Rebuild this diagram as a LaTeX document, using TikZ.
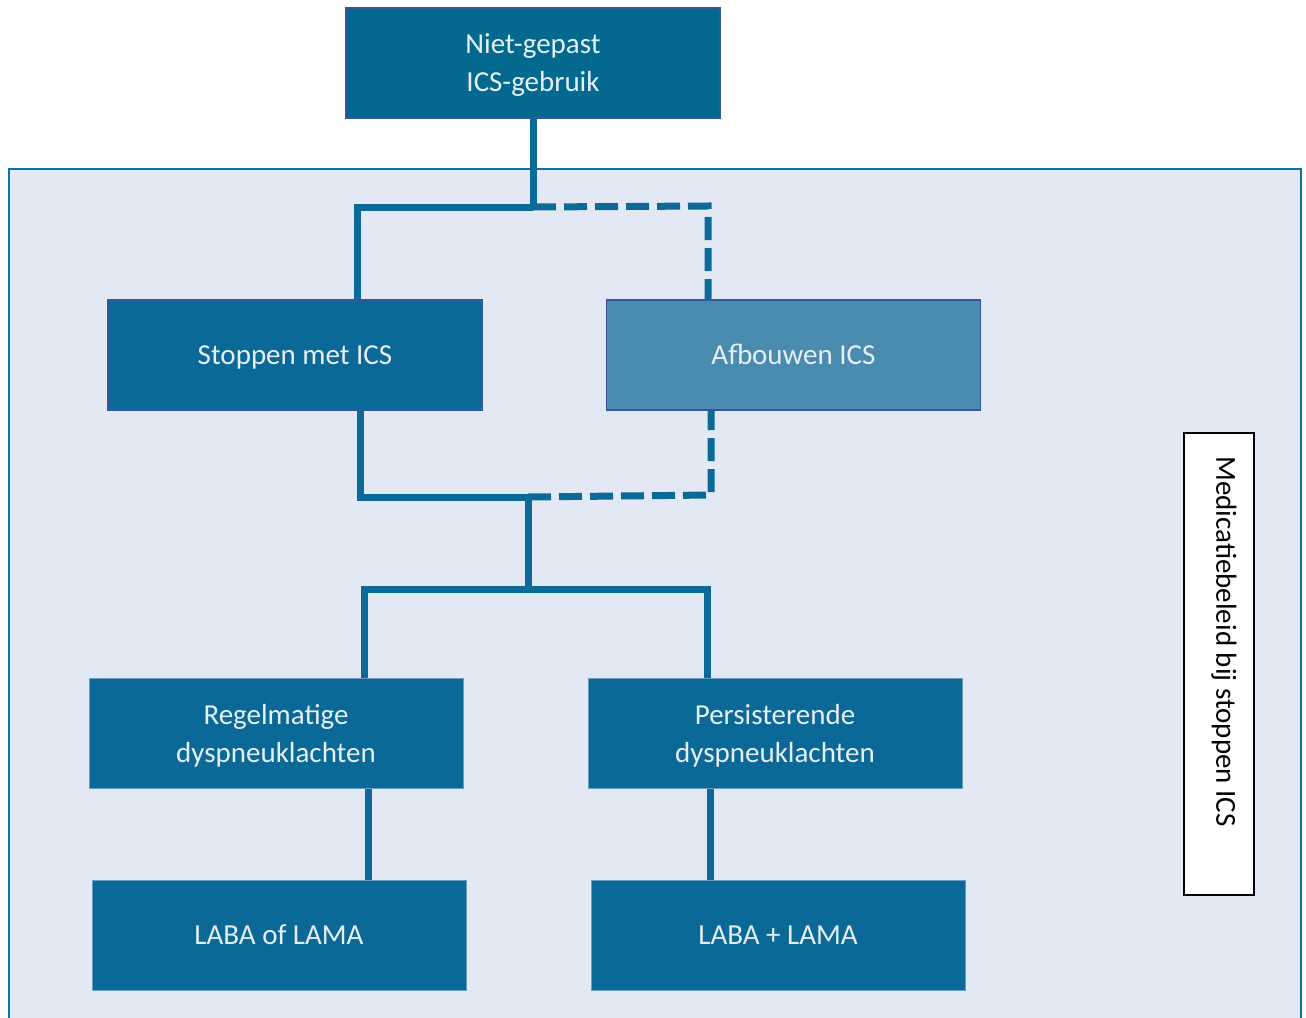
\documentclass[tikz,border=0pt]{standalone}
\usepackage{fontspec}
\setmainfont{Carlito}
\definecolor{bgpanel}{HTML}{E2E8F4}
\definecolor{panelline}{HTML}{1170A0}
\definecolor{topfill}{HTML}{03698F}
\definecolor{boxfill}{HTML}{0A6996}
\definecolor{lightfill}{HTML}{4A8BB0}
\definecolor{darkedge}{HTML}{3A55A0}
\definecolor{softedge}{HTML}{6A9CC6}
\definecolor{connc}{HTML}{0B6A98}
\definecolor{textc}{HTML}{E6EEF6}
\begin{document}
\begin{tikzpicture}[x=0.5pt,y=-0.5pt,
  box/.style={rectangle, minimum width=187pt, minimum height=55pt, inner sep=0pt,
    text=textc, font=\fontsize{14.5pt}{19pt}\selectfont, align=center, line width=0.8pt},
  oneline/.style={text height=9.3pt, text depth=0pt},
  twoline/.style={text depth=0pt},
  conn/.style={draw=connc, line width=3.5pt},
  dconn/.style={draw=connc, line width=3.5pt, dash pattern=on 11.5pt off 4pt}]
\useasboundingbox (0,0) rectangle (1306,1017);
% panel
\fill[bgpanel] (8,168) rectangle (1302,1030);
\draw[panelline, line width=1.3pt] (9,1030) -- (9,169) -- (1301,169) -- (1301,1030);
% nodes
\node[box, twoline, fill=topfill, draw=darkedge] (top) at (533,63) {Niet-gepast\\ICS-gebruik};
\node[box, oneline, fill=boxfill, draw=darkedge] (stop) at (295,355) {Stoppen met ICS};
\node[box, oneline, fill=lightfill, draw=darkedge] (afb) at (793.5,355) {Afbouwen ICS};
\node[box, twoline, fill=boxfill, draw=softedge, line width=0.5pt] (reg) at (276,733) {Regelmatige\\dyspneuklachten};
\node[box, twoline, fill=boxfill, draw=softedge, line width=0.5pt] (pers) at (775,733) {Persisterende\\dyspneuklachten};
\node[box, oneline, fill=boxfill, draw=softedge, line width=0.5pt] (laba1) at (279,935) {LABA of LAMA};
\node[box, oneline, fill=boxfill, draw=softedge, line width=0.5pt] (laba2) at (778,935) {LABA + LAMA};
\node[draw=black, fill=white, line width=0.6pt, minimum width=35pt, minimum height=231pt, inner sep=0pt] (side) at (1219,664) {};
\node[rotate=-90, font=\fontsize{14.5pt}{17pt}\selectfont, text=black, inner sep=0pt] (sidetext) at (1224,641.5) {Medicatiebeleid bij stoppen ICS};
% junction coordinates
\coordinate (j1) at (533,207);
\coordinate (a1) at (357,207);
\coordinate (a2) at (708,206);
\coordinate (b1) at (360,497);
\coordinate (j2) at (528,497);
\coordinate (b2) at (711,495);
\coordinate (j3) at (528,589);
\coordinate (c1) at (364,589);
\coordinate (c2) at (707,589);
\coordinate (d1) at (368,835);
\coordinate (d2) at (710,835);
% connectors
\draw[conn] (top.south) -- (j1);
\draw[conn] (a1 |- stop.north) -- (a1) -- (j1);
\draw[dconn] (j1) -- (a2) -- (a2 |- afb.north);
\draw[conn] (b1 |- stop.south) -- (b1) -- (j2);
\draw[dconn] (j2) -- (b2) -- (b2 |- afb.south);
\draw[conn] (j2) -- (j3);
\draw[conn] (c1 |- reg.north) -- (c1) -- (c2) -- (c2 |- pers.north);
\draw[conn] (d1 |- reg.south) -- (d1 |- laba1.north);
\draw[conn] (d2 |- pers.south) -- (d2 |- laba2.north);
\end{tikzpicture}
\end{document}
